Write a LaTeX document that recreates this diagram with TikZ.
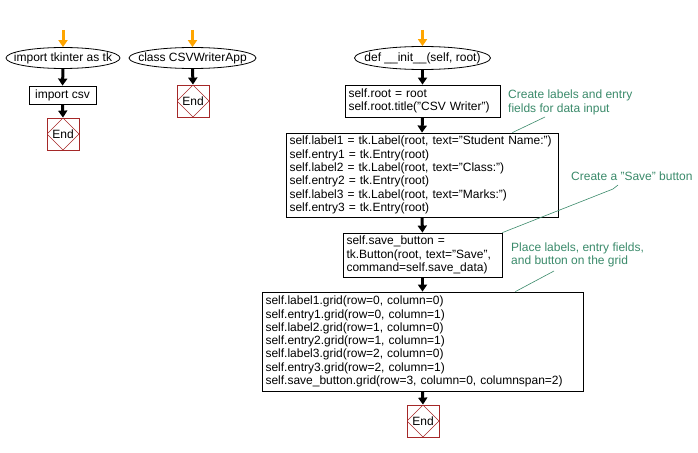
\documentclass[tikz,border=0pt]{standalone}
\usepackage{fontspec}
\setmainfont{Liberation Sans}
\usetikzlibrary{arrows.meta,shapes.geometric}
\definecolor{cmt}{RGB}{58,138,106}
\definecolor{endred}{RGB}{165,40,40}
\definecolor{startor}{RGB}{255,165,0}
\begin{document}
\begin{tikzpicture}[x=1pt,y=-1pt,
  every node/.style={font=\fontsize{12}{13.3}\selectfont},
  term/.style={draw,ellipse,inner xsep=-30pt,inner ysep=-10pt,line width=0.8pt},
  codebox/.style={draw,rectangle,line width=0.8pt,inner xsep=3.5pt,inner ysep=0pt,align=left},
  endbox/.style={draw=endred,rectangle,line width=0.8pt,minimum width=32pt,minimum height=32pt,inner sep=0pt,
    path picture={\draw[endred,line width=0.6pt] (path picture bounding box.north) -- (path picture bounding box.east) -- (path picture bounding box.south) -- (path picture bounding box.west) -- cycle;}},
  flow/.style={line width=3pt,-{Triangle[length=7pt,width=9pt]}},
  startflow/.style={flow,startor},
  note/.style={text=cmt,align=left,inner sep=0pt},
  noteline/.style={draw=cmt,line width=0.6pt}
]
\path[use as bounding box] (0,0) rectangle (698,452);

% column 1
\coordinate (s1) at (63,30);
\node[term,minimum width=114pt,minimum height=21pt] (e1) at (63,58) {import tkinter as tk};
\node[codebox,minimum width=67pt,minimum height=18pt] (c1) at (62.5,95) {import csv};
\node[endbox] (end1) at (63,134) {End};
\draw[startflow] (s1) -- (e1.north);
\draw[flow] (e1.south) -- (c1.north);
\draw[flow] (c1.south) -- (end1.north);

% column 2
\coordinate (s2) at (192.5,30);
\node[term,minimum width=127pt,minimum height=21pt] (e2) at (192.5,58) {class CSVWriterApp};
\node[endbox] (end2) at (193,101) {End};
\draw[startflow] (s2) -- (e2.north);
\draw[flow] (e2.south) -- (end2.north);

% column 3
\coordinate (s3) at (422.5,30);
\node[term,minimum width=136pt,minimum height=23pt] (e3) at (422.5,58) {def \_\_init\_\_(self, root)};
\node[codebox,text width=148pt,minimum height=32pt] (r1) at (422.5,101) {self.root = root\\self.root.title("CSV Writer")};
\node[codebox,text width=265pt,minimum height=84pt] (r2) at (422,175) {self.label1 = tk.Label(root, text="Student Name:")\\self.entry1 = tk.Entry(root)\\self.label2 = tk.Label(root, text="Class:")\\self.entry2 = tk.Entry(root)\\self.label3 = tk.Label(root, text="Marks:")\\self.entry3 = tk.Entry(root)};
\node[codebox,text width=152pt,minimum height=44pt] (r3) at (422.5,255) {self.save\_button =\\tk.Button(root, text="Save",\\command=self.save\_data)};
\node[codebox,text width=314pt,minimum height=99pt] (r4) at (422.5,341.5) {self.label1.grid(row=0, column=0)\\self.entry1.grid(row=0, column=1)\\self.label2.grid(row=1, column=0)\\self.entry2.grid(row=1, column=1)\\self.label3.grid(row=2, column=0)\\self.entry3.grid(row=2, column=1)\\self.save\_button.grid(row=3, column=0, columnspan=2)};
\node[endbox] (end3) at (423,421) {End};
\draw[startflow] (s3) -- (e3.north);
\draw[flow] (e3.south) -- (r1.north);
\draw[flow] (r1.south) -- (r2.north);
\draw[flow] (r2.south) -- (r3.north);
\draw[flow] (r3.south) -- (r4.north);
\draw[flow] (r4.south) -- (end3.north);

% notes
\node[note,anchor=west] (n1) at (508,102.5) {Create labels and entry\\fields for data input};
\coordinate (n1a) at (545,117);
\draw[noteline] (n1a) -- ([xshift=-46pt]r2.north east);
\node[note,anchor=west] (n2) at (571,176) {Create a "Save" button};
\coordinate (n2a) at (618,185);
\draw[noteline] (n2a) -- (613,189) -- (r3.north east);
\node[note,anchor=west] (n3) at (511,255) {Place labels, entry fields,\\and button on the grid};
\coordinate (n3a) at (554,271);
\draw[noteline] (n3a) -- ([xshift=-68pt]r4.north east);
\end{tikzpicture}
\end{document}
